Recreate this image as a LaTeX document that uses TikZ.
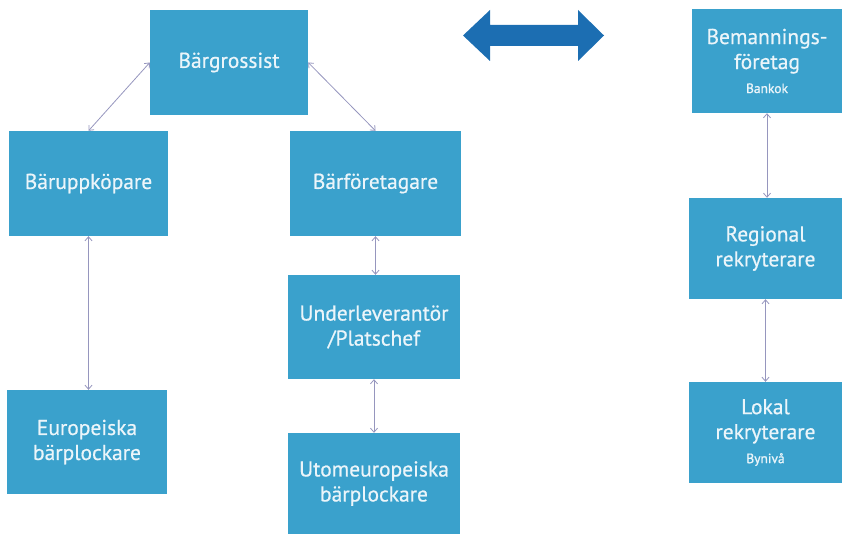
\documentclass[tikz,border=0pt]{standalone}
\usepackage{fontspec}
\setmainfont{PT Sans}
\usetikzlibrary{arrows.meta}
\definecolor{boxblue}{RGB}{58,161,204}
\definecolor{bigblue}{RGB}{28,110,178}
\definecolor{linkc}{RGB}{150,150,190}
\definecolor{txtc}{RGB}{235,245,250}
\tikzset{
  box/.style={fill=boxblue, draw=none, text=txtc, align=center, inner sep=2pt,
    font=\addfontfeature{FakeBold=0.6}\fontsize{21.5}{25}\selectfont},
  link/.style={draw=linkc, line width=0.8pt, {Straight Barb[length=4pt,width=7pt]}-{Straight Barb[length=4pt,width=7pt]}}
}
\newcommand{\smalltxt}[1]{{\addfontfeature{FakeBold=1}\fontsize{13.5}{14}\selectfont #1}}
\begin{document}
\begin{tikzpicture}[x=1pt,y=-1pt]
\useasboundingbox (0,0) rectangle (842,534);
\node[box, minimum width=158pt, minimum height=105pt] (g) at (229,62.5) {Bärgrossist};
\node[box, minimum width=159pt, minimum height=105pt] (bu) at (88.5,183.5) {Bäruppköpare};
\node[box, minimum width=171pt, minimum height=105pt] (bf) at (375.5,183.5) {Bärföretagare};
\node[box, minimum width=172pt, minimum height=104pt] (ul) at (374,327) {Underleverantör\\/Platschef};
\node[box, minimum width=172pt, minimum height=101pt] (ut) at (374,483.5) {Utomeuropeiska\\bärplockare};
\node[box, minimum width=160pt, minimum height=104pt] (eu) at (87,442) {Europeiska\\bärplockare};
\node[box, minimum width=150pt, minimum height=104pt] (bm) at (767,61) {Bemannings-\\företag\\[-1pt]\smalltxt{Bankok}};
\node[box, minimum width=153pt, minimum height=101pt] (rr) at (765.5,248.5) {Regional\\rekryterare};
\node[box, minimum width=153pt, minimum height=101pt] (lr) at (765.5,432.5) {Lokal\\rekryterare\\[-1pt]\smalltxt{Bynivå}};
\draw[link] (g.west) -- (bu.north);
\draw[link] (g.east) -- (bf.north);
\draw[link] (bu.south) -- (bu.south |- eu.north);
\draw[link] (bf.south) -- (bf.south |- ul.north);
\draw[link] (ul.south) -- (ul.south |- ut.north);
\draw[link] (bm.south) -- (bm.south |- rr.north);
\draw[link] (rr.south) -- (rr.south |- lr.north);
\fill[bigblue] (463,35.5) -- (490,10) -- (490,25) -- (578,25) -- (578,10) -- (604,35.5) -- (578,61) -- (578,46) -- (490,46) -- (490,61) -- cycle;
\end{tikzpicture}
\end{document}
